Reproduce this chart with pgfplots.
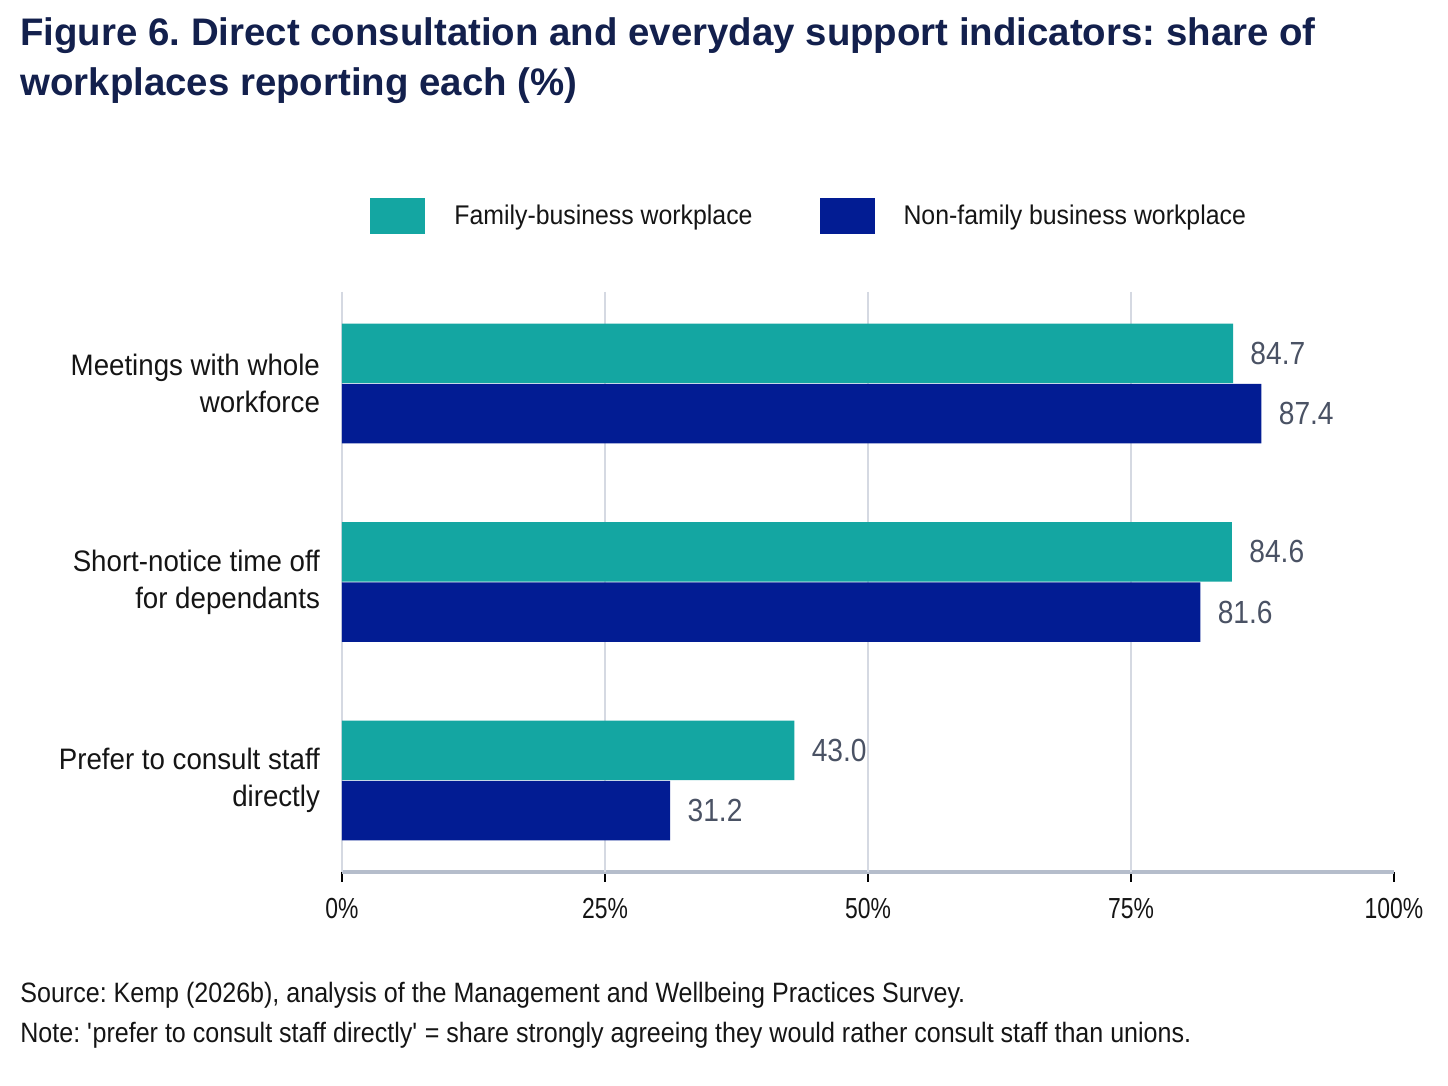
\documentclass[border=0pt]{standalone}
\usepackage{fontspec}
\setmainfont{Liberation Sans}
\newfontfamily\condfam{Liberation Sans}[FakeStretch=0.79]
\newfontfamily\valfam{Liberation Sans}[FakeStretch=0.88]
\newfontfamily\catfam{Liberation Sans}[FakeStretch=0.935]
\newfontfamily\legfam{Liberation Sans}[FakeStretch=0.92]
\newfontfamily\footfam{Liberation Sans}[FakeStretch=0.895]
\usepackage{pgfplots}
\pgfplotsset{compat=1.18}
\definecolor{famteal}{HTML}{14A6A2}
\definecolor{nonfam}{HTML}{021C93}
\definecolor{titlecol}{HTML}{13204D}
\definecolor{gridcol}{HTML}{D5D9E2}
\definecolor{axiscol}{HTML}{B5BDCB}
\definecolor{valcol}{HTML}{4A5264}
\definecolor{txtcol}{HTML}{151515}
\frenchspacing
\begin{document}
\begin{tikzpicture}
\fill[white] (0,0) rectangle (724pt,543pt);
\node[anchor=base west, inner sep=0pt, font=\fontsize{19.2}{25}\selectfont\bfseries, text=titlecol] at (10pt,520pt) {Figure 6. Direct consultation and everyday support indicators: share of};
\node[anchor=base west, inner sep=0pt, font=\fontsize{19.2}{25}\selectfont\bfseries, text=titlecol] at (10pt,495pt) {workplaces reporting each (\%)};
\begin{axis}[
  at={(171pt,107pt)}, anchor=south west,
  scale only axis, width=526pt, height=290pt,
  xbar,
  xmin=0, xmax=100,
  ymin=-0.461, ymax=2.461, y dir=reverse,
  bar width=0.300,
  xtick={0,25,50,75,100},
  xticklabels={0\%,25\%,50\%,75\%,100\%},
  extra x ticks={0,25,50,75},
  extra x tick labels={},
  extra x tick style={grid=major, major tick length=0pt},
  ytick={0,1,2},
  yticklabels={{Meetings with whole\\workforce},{Short-notice time off\\for dependants},{Prefer to consult staff\\directly}},
  axis x line*=bottom, axis y line*=left,
  x axis line style={draw=axiscol, line width=2pt, -},
  y axis line style={draw=none},
  major grid style={draw=gridcol, line width=1pt},
  x tick style={draw=black, line width=0.6pt},
  y tick style={draw=none},
  tick align=outside, major tick length=5pt,
  xticklabel style={font=\condfam\fontsize{14.5}{14.5}\selectfont, text=txtcol, yshift=-4.5pt},
  yticklabel style={font=\catfam\fontsize{14.8}{18.5}\selectfont, text=txtcol, align=right, xshift=-2.5pt},
  /pgf/number format/assume math mode=true,
  point meta=x,
  nodes near coords={\pgfmathprintnumber[fixed,fixed zerofill,precision=1,assume math mode=true]{\pgfplotspointmeta}},
  every node near coord/.append style={font=\valfam\fontsize{16}{16}\selectfont, text=valcol, inner sep=0pt, xshift=8.5pt, anchor=west},
  legend columns=2,
  legend style={at={(0.0266,1.131)}, anchor=west, draw=none, fill=none, inner sep=0pt,
    font=\legfam\fontsize{13.5}{15}\selectfont, text=txtcol,
    /tikz/every odd column/.style={column sep=12.5pt},
    /tikz/every even column/.style={column sep=31.5pt}},
  legend cell align=left,
  legend image code/.code={\fill[#1, draw=none] (0pt,-9pt) rectangle (27.5pt,9pt);},
]
\addplot[fill=famteal, draw=none, bar shift=-0.152] coordinates {(84.7,0) (84.6,1) (43.0,2)};
\addlegendentry{Family-business workplace}
\addplot[fill=nonfam, draw=none, bar shift=0.152] coordinates {(87.4,0) (81.6,1) (31.2,2)};
\addlegendentry{Non-family business workplace}
\end{axis}
\node[anchor=base west, inner sep=0pt, font=\footfam\fontsize{14}{16}\selectfont, text=txtcol] at (10pt,41.5pt) {Source: Kemp (2026b), analysis of the Management and Wellbeing Practices Survey.};
\node[anchor=base west, inner sep=0pt, font=\footfam\fontsize{14}{16}\selectfont, text=txtcol] at (10pt,21.5pt) {Note: \textquotesingle prefer to consult staff directly\textquotesingle{} = share strongly agreeing they would rather consult staff than unions.};
\pgfresetboundingbox
\path[use as bounding box] (0,0) rectangle (724pt,543pt);
\end{tikzpicture}
\end{document}
